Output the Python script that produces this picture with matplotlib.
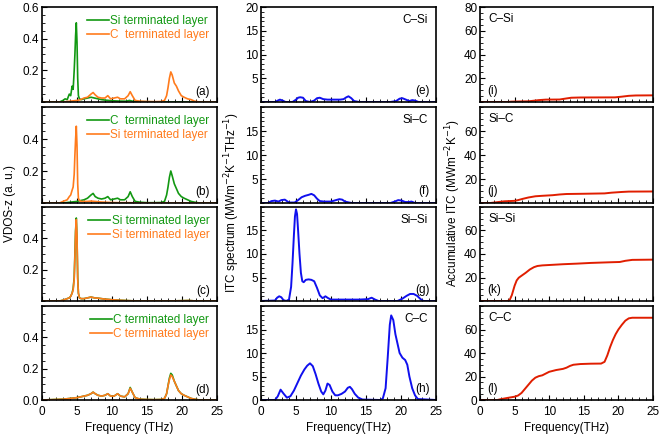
import matplotlib
matplotlib.use("Agg")
import matplotlib.pyplot as plt
from matplotlib.ticker import MultipleLocator
from matplotlib.lines import Line2D

plt.rcParams["font.family"] = ["Liberation Sans", "DejaVu Sans"]
plt.rcParams["font.size"] = 8.5

# ---------------- data ----------------
# VDOS-z, Si terminated layer (peak near 5 THz)
f_si = [0, 2.5, 3.0, 3.3, 3.6, 3.9, 4.1, 4.3, 4.45, 4.6, 4.7, 4.8, 4.9, 5.0,
        5.1, 5.2, 5.35, 5.6, 6.0, 6.5, 7.0, 7.5, 8.0, 8.5, 9.0, 9.5, 10.0,
        11.0, 12.0, 12.5, 13.0, 14.0, 16.0, 18.0, 20.0, 21.0, 22.0, 25]
vdos_si_a = [0, 0, 0.01, 0.02, 0.015, 0.05, 0.04, 0.1, 0.08, 0.2, 0.3, 0.42,
             0.5, 0.38, 0.15, 0.04, 0.02, 0.015, 0.02, 0.025, 0.03, 0.025,
             0.02, 0.015, 0.012, 0.01, 0.008, 0.006, 0.005, 0.01, 0.004,
             0.002, 0.001, 0, 0, 0, 0, 0]
vdos_si_b = [0, 0, 0.01, 0.015, 0.02, 0.04, 0.05, 0.08, 0.1, 0.18, 0.3, 0.4,
             0.48, 0.36, 0.12, 0.03, 0.015, 0.01, 0.01, 0.01, 0.012, 0.01,
             0.008, 0.006, 0.005, 0.004, 0.003, 0.002, 0.002, 0.002, 0.001,
             0, 0, 0, 0, 0, 0, 0]
vdos_si_c1 = [0, 0, 0.005, 0.01, 0.015, 0.02, 0.03, 0.05, 0.08, 0.15, 0.3,
              0.45, 0.53, 0.4, 0.15, 0.05, 0.02, 0.015, 0.015, 0.02, 0.025,
              0.02, 0.018, 0.015, 0.012, 0.01, 0.008, 0.005, 0.003, 0.002,
              0.001, 0, 0, 0, 0.002, 0.003, 0, 0]
vdos_si_c2 = [0, 0, 0.005, 0.01, 0.015, 0.02, 0.03, 0.05, 0.07, 0.14, 0.28,
              0.44, 0.52, 0.42, 0.14, 0.05, 0.02, 0.015, 0.015, 0.02, 0.025,
              0.02, 0.018, 0.015, 0.012, 0.01, 0.008, 0.005, 0.003, 0.002,
              0.001, 0, 0, 0, 0.002, 0.003, 0, 0]

# VDOS-z, C terminated layer (peak near 18 THz)
f_c = [0, 3.0, 4.0, 5.0, 5.5, 6.0, 6.5, 7.0, 7.3, 7.6, 8.0, 8.5, 9.0, 9.4,
       9.8, 10.3, 10.8, 11.2, 11.8, 12.3, 12.6, 12.9, 13.3, 14.0, 15.0, 16.0,
       17.0, 17.5, 17.8, 18.0, 18.2, 18.4, 18.6, 18.9, 19.2, 19.5, 19.9, 20.3,
       20.8, 21.3, 21.8, 22.5, 25]
vdos_c_a = [0, 0, 0.005, 0.01, 0.015, 0.025, 0.03, 0.05, 0.06, 0.045, 0.03,
            0.025, 0.025, 0.04, 0.02, 0.025, 0.03, 0.02, 0.02, 0.04, 0.065,
            0.04, 0.01, 0.005, 0.003, 0.002, 0.003, 0.01, 0.04, 0.09, 0.15,
            0.19, 0.17, 0.12, 0.1, 0.07, 0.04, 0.03, 0.02, 0.015, 0.005, 0, 0]
vdos_c_b = [0, 0, 0.005, 0.01, 0.015, 0.02, 0.03, 0.05, 0.06, 0.04, 0.03,
            0.025, 0.03, 0.04, 0.02, 0.025, 0.03, 0.02, 0.02, 0.04, 0.07,
            0.04, 0.01, 0.005, 0.002, 0.002, 0.003, 0.01, 0.05, 0.1, 0.16,
            0.2, 0.17, 0.12, 0.09, 0.06, 0.04, 0.03, 0.02, 0.01, 0.005, 0, 0]
vdos_c_d1 = [0, 0.005, 0.01, 0.015, 0.02, 0.025, 0.03, 0.04, 0.05, 0.04,
             0.03, 0.025, 0.03, 0.04, 0.025, 0.025, 0.04, 0.025, 0.02, 0.04,
             0.08, 0.05, 0.015, 0.005, 0.003, 0.002, 0.003, 0.01, 0.04, 0.09,
             0.14, 0.17, 0.16, 0.12, 0.09, 0.06, 0.04, 0.03, 0.02, 0.01,
             0.005, 0, 0]
vdos_c_d2 = [0, 0.005, 0.01, 0.015, 0.02, 0.025, 0.03, 0.04, 0.05, 0.04,
             0.03, 0.025, 0.03, 0.04, 0.025, 0.025, 0.04, 0.025, 0.02, 0.04,
             0.075, 0.05, 0.015, 0.005, 0.003, 0.002, 0.003, 0.01, 0.04, 0.09,
             0.13, 0.16, 0.15, 0.12, 0.09, 0.06, 0.04, 0.03, 0.02, 0.01,
             0.005, 0, 0]

# ITC spectrum (MW m^-2 K^-1 THz^-1)
f_e = [0, 2.0, 2.4, 2.7, 3.1, 3.5, 4.5, 5.0, 5.3, 5.6, 6.0, 6.4, 7.0, 7.6,
       8.0, 8.4, 8.9, 9.5, 10.5, 11.3, 11.8, 12.2, 12.5, 12.9, 13.3, 14.0,
       18.5, 19.3, 19.8, 20.2, 20.7, 21.2, 21.6, 22.0, 22.5, 25]
itc_e = [0, 0, 0.3, 0.5, 0.3, 0, 0, 0.5, 0.9, 1.0, 0.9, 0.2, 0, 0.3, 0.8,
         0.9, 0.6, 0.5, 0.5, 0.5, 0.6, 1.0, 1.2, 0.8, 0.2, 0, 0, 0.2, 0.7,
         0.8, 0.5, 0.2, 0.4, 0.3, 0, 0]
f_f = [0, 1.0, 1.5, 2.0, 2.5, 2.9, 3.4, 4.0, 4.8, 5.3, 5.8, 6.3, 6.8, 7.2,
       7.6, 8.0, 8.4, 9.0, 10.0, 10.7, 11.2, 11.6, 12.0, 12.6, 13.0, 18.5,
       19.1, 19.6, 20.1, 20.6, 21.1, 21.5, 22.0, 25]
itc_f = [0, 0, 0.4, 0.5, 0.3, 0.6, 0.7, 0.1, 0.1, 0.6, 1.2, 1.5, 1.7, 1.9,
         1.6, 0.9, 0.4, 0.3, 0.3, 0.6, 0.8, 0.7, 0.3, 0.1, 0, 0, 0.3, 0.6,
         0.5, 0.2, 0.2, 0.3, 0, 0]
f_g = [0, 2.0, 2.3, 2.6, 2.9, 3.2, 3.6, 4.0, 4.3, 4.5, 4.7, 4.85, 5.0, 5.15,
       5.3, 5.5, 5.7, 5.9, 6.1, 6.4, 6.8, 7.2, 7.6, 8.0, 8.4, 8.8, 9.2, 9.6,
       10.0, 12.0, 14.0, 15.3, 15.8, 16.3, 16.8, 19.5, 20.2, 20.8, 21.3,
       21.8, 22.3, 22.8, 23.2, 25]
itc_g = [0, 0.1, 0.7, 1.0, 0.8, 0.2, 0, 0.3, 3.0, 8.0, 14.0, 18.0, 19.5,
         18.5, 15.0, 10.0, 6.0, 4.2, 4.0, 4.5, 4.6, 4.5, 4.2, 2.8, 1.2, 0.6,
         1.0, 0.6, 0.3, 0.3, 0.3, 0.4, 0.7, 0.3, 0, 0, 0.5, 1.1, 1.5, 1.5,
         1.1, 0.4, 0, 0]
f_h = [0, 2.0, 2.4, 2.8, 3.2, 3.7, 4.2, 4.7, 5.2, 5.7, 6.2, 6.6, 7.0, 7.4,
       7.8, 8.2, 8.6, 8.9, 9.2, 9.5, 9.8, 10.2, 10.6, 11.0, 11.5, 12.0,
       12.4, 12.7, 13.0, 13.4, 13.9, 14.5, 17.0, 17.4, 17.8, 18.1, 18.4,
       18.6, 18.9, 19.2, 19.5, 19.8, 20.2, 20.6, 20.9, 21.2, 21.6, 22.0,
       22.4, 25]
itc_h = [0, 0, 0.8, 2.2, 1.4, 0.5, 0.8, 2.0, 3.6, 5.2, 6.5, 7.3, 7.8, 7.2,
         5.5, 3.5, 1.8, 1.2, 2.0, 3.5, 3.2, 1.8, 1.0, 1.0, 1.3, 1.8, 2.6,
         2.8, 2.3, 1.3, 0.5, 0.1, 0, 0.3, 2.5, 9.0, 16.0, 18.0, 17.0, 14.0,
         12.0, 10.0, 9.0, 8.5, 7.5, 5.0, 2.5, 1.0, 0.2, 0]

# accumulative ITC (MW m^-2 K^-1)
f_i = [0, 4.0, 4.5, 6.0, 7.0, 7.5, 8.5, 9.5, 11.5, 12.5, 13.2, 14.5, 19.5,
       20.5, 21.5, 22.5, 25]
acc_i = [0, 0, 0.3, 0.5, 0.6, 0.9, 1.6, 2.0, 2.1, 3.0, 3.6, 3.8, 3.9, 4.5,
         5.2, 5.5, 5.6]
f_j = [0, 1.5, 2.5, 3.5, 5.0, 5.5, 6.2, 7.0, 8.0, 9.0, 10.5, 11.5, 12.5,
       15.0, 18.0, 19.0, 20.5, 21.5, 25]
acc_j = [0, 0, 0.7, 1.4, 1.8, 2.4, 3.5, 4.6, 5.6, 6.0, 6.5, 7.1, 7.5, 7.7,
         8.0, 8.6, 9.2, 9.5, 9.6]
f_k = [0, 4.0, 4.3, 4.6, 5.0, 5.3, 5.6, 6.0, 6.6, 7.2, 7.8, 8.3, 9.0, 10.5,
       12.0, 14.0, 16.0, 19.0, 20.2, 21.0, 22.0, 25]
acc_k = [0, 0, 1.0, 5.0, 13.0, 17.5, 19.8, 21.5, 24.0, 26.8, 28.8, 29.8,
         30.3, 30.8, 31.3, 31.8, 32.4, 33.0, 33.2, 34.2, 35.0, 35.2]
f_l = [0, 2.5, 3.0, 4.0, 5.0, 5.5, 6.0, 6.5, 7.0, 7.5, 8.0, 8.5, 9.0, 9.5,
       10.0, 11.0, 12.0, 12.5, 13.0, 13.5, 14.5, 16.0, 17.5, 18.0, 18.4,
       18.8, 19.2, 19.6, 20.0, 20.5, 21.0, 21.5, 22.0, 25]
acc_l = [0, 0, 0.7, 1.8, 2.8, 3.8, 6.0, 9.5, 13.0, 16.5, 19.0, 20.3, 21.0,
         22.5, 24.0, 25.5, 26.5, 27.5, 29.0, 30.0, 30.6, 30.9, 31.0, 32.5,
         38.0, 45.0, 51.0, 56.0, 60.0, 64.0, 67.5, 69.5, 70.0, 70.0]

green = "#129812"
orange = "#ff7b1c"
blue = "#1010ee"
red = "#e01e00"

# ---------------- layout (pixels of a 664x436 canvas) ----------------
W, H = 664, 436
fig = plt.figure(figsize=(W / 100, H / 100), dpi=100)
col_x = [(42, 217), (261, 436), (480, 653)]
row_y = [(7, 102), (107, 203), (207, 301), (306, 400)]


def make_ax(c, r):
    x0, x1 = col_x[c]
    y0, y1 = row_y[r]
    ax = fig.add_axes([x0 / W, 1 - y1 / H, (x1 - x0) / W, (y1 - y0) / H])
    ax.set_xlim(0, 25)
    ax.xaxis.set_major_locator(MultipleLocator(5))
    ax.xaxis.set_minor_locator(MultipleLocator(1))
    ax.tick_params(which="both", direction="in", labelsize=8.5)
    ax.tick_params(axis="x", pad=4)
    ax.tick_params(axis="y", pad=2)
    ax.tick_params(which="major", length=3.5, width=0.8)
    ax.tick_params(which="minor", length=2, width=0.6)
    for s in ax.spines.values():
        s.set_linewidth(1.2)
    if r < 3:
        ax.set_xticklabels([])
    return ax


# ---------------- column 1: VDOS ----------------
vdos_panels = [
    (f_si, vdos_si_a, green, "Si terminated layer",
     f_c, vdos_c_a, orange, "C  terminated layer", "(a)", [0.2, 0.4, 0.6]),
    (f_c, vdos_c_b, green, "C  terminated layer",
     f_si, vdos_si_b, orange, "Si terminated layer", "(b)", [0.2, 0.4]),
    (f_si, vdos_si_c1, green, "Si terminated layer",
     f_si, vdos_si_c2, orange, "Si terminated layer", "(c)", [0.2, 0.4]),
    (f_c, vdos_c_d1, green, "C terminated layer",
     f_c, vdos_c_d2, orange, "C terminated layer", "(d)", [0.0, 0.2, 0.4]),
]
for r, (xa, ya, ca, la, xb, yb, cb, lb, tag, yt) in enumerate(vdos_panels):
    ax = make_ax(0, r)
    ax.plot(xa, ya, color=ca, lw=1.2)
    ax.plot(xb, yb, color=cb, lw=1.2)
    ax.set_ylim(0, 0.6)
    ax.set_yticks(yt)
    ax.set_yticklabels(["%.1f" % v for v in yt])
    ax.yaxis.set_minor_locator(MultipleLocator(0.05))
    handles = [Line2D([], [], color=ca, lw=1.2), Line2D([], [], color=cb, lw=1.2)]
    ax.legend(handles, [la, lb], loc="upper right", frameon=False,
              labelcolor=[ca, cb], fontsize=8.5, handlelength=1.9,
              handletextpad=0.1, labelspacing=0.2, borderaxespad=0.45,
              borderpad=0.2)
    ax.text(0.96, 0.11, tag, transform=ax.transAxes, ha="right", va="center")
    if r == 3:
        ax.set_xlabel("Frequency (THz)", fontsize=8.5, labelpad=3)

# ---------------- column 2: ITC spectrum ----------------
itc_panels = [(f_e, itc_e, "C\u2013Si", "(e)", [5, 10, 15, 20]),
              (f_f, itc_f, "Si\u2013C", "(f)", [5, 10, 15]),
              (f_g, itc_g, "Si\u2013Si", "(g)", [5, 10, 15]),
              (f_h, itc_h, "C\u2013C", "(h)", [0, 5, 10, 15])]
for r, (xs, ys, pair, tag, yt) in enumerate(itc_panels):
    ax = make_ax(1, r)
    ax.plot(xs, ys, color=blue, lw=1.4)
    ax.set_ylim(0, 20)
    ax.set_yticks(yt)
    ax.yaxis.set_minor_locator(MultipleLocator(1))
    ax.text(0.955, 0.86, pair, transform=ax.transAxes, ha="right", va="center")
    ax.text(0.965, 0.12, tag, transform=ax.transAxes, ha="right", va="center")
    if r == 3:
        ax.set_xlabel("Frequency(THz)", fontsize=8.5, labelpad=3)

# ---------------- column 3: accumulative ITC ----------------
acc_panels = [(f_i, acc_i, "C\u2013Si", "(i)", [20, 40, 60, 80]),
              (f_j, acc_j, "Si\u2013C", "(j)", [20, 40, 60]),
              (f_k, acc_k, "Si\u2013Si", "(k)", [20, 40, 60]),
              (f_l, acc_l, "C\u2013C", "(l)", [0, 20, 40, 60])]
for r, (xs, ys, pair, tag, yt) in enumerate(acc_panels):
    ax = make_ax(2, r)
    ax.plot(xs, ys, color=red, lw=1.4)
    ax.set_ylim(0, 80)
    ax.set_yticks(yt)
    ax.yaxis.set_minor_locator(MultipleLocator(5))
    ax.text(0.05, 0.87, pair, transform=ax.transAxes, ha="left", va="center")
    ax.text(0.04, 0.12, tag, transform=ax.transAxes, ha="left", va="center")
    if r == 3:
        ax.set_xlabel("Frequency(THz)", fontsize=8.5, labelpad=3)

# shared y labels
fig.text(10 / W, 1 - 203 / H, "VDOS-z (a. u.)", rotation=90,
         ha="center", va="center", fontsize=8.5)
fig.text(232 / W, 1 - 203 / H, "ITC spectrum (MWm$^{-2}$K$^{-1}$THz$^{-1}$)",
         rotation=90, ha="center", va="center", fontsize=8.5)
fig.text(453 / W, 1 - 203 / H, "Accumulative ITC (MWm$^{-2}$K$^{-1}$)",
         rotation=90, ha="center", va="center", fontsize=8.5)

fig.savefig("out.png", dpi=100)
